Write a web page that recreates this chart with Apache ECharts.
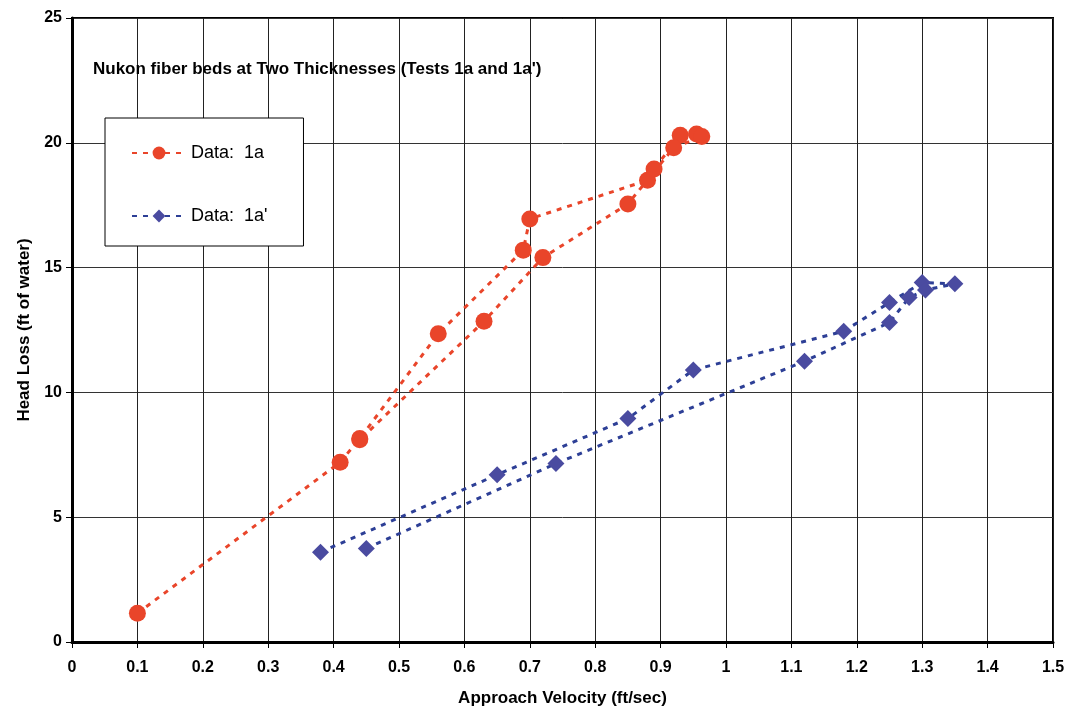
<!DOCTYPE html>
<html>
<head>
<meta charset="utf-8">
<script src="https://cdn.jsdelivr.net/npm/echarts@6/dist/echarts.min.js"></script>
<style>html,body{margin:0;padding:0;background:#fff;}#c{width:1070px;height:709px;}</style>
</head>
<body>
<div id="c"></div>
<script>
const titleText = "Nukon fiber beds at Two Thicknesses (Tests 1a and 1a')";
const xName = "Approach Velocity (ft/sec)";
const yName = "Head Loss (ft of water)";
const seriesNames = ["Data:  1a", "Data:  1a'"];
const xTickLabels = ["0","0.1","0.2","0.3","0.4","0.5","0.6","0.7","0.8","0.9","1","1.1","1.2","1.3","1.4","1.5"];
const yTickLabels = ["0","5","10","15","20","25"];

const redX = [0.10, 0.41, 0.44, 0.56, 0.69, 0.70, 0.88, 0.89, 0.93, 0.955, 0.963, 0.92, 0.85, 0.72, 0.63, 0.44];
const redY = [1.15, 7.2, 8.15, 12.35, 15.7, 16.95, 18.5, 18.95, 20.3, 20.35, 20.25, 19.8, 17.55, 15.4, 12.85, 8.1];
const blueX = [0.38, 0.65, 0.85, 0.95, 1.18, 1.25, 1.30, 1.35, 1.305, 1.28, 1.25, 1.12, 0.74, 0.45];
const blueY = [3.6, 6.7, 8.95, 10.9, 12.45, 13.6, 14.4, 14.35, 14.1, 13.8, 12.8, 11.25, 7.15, 3.75];

const FONT = "'Liberation Sans', Arial, sans-serif";
const RED = '#e9452a';
const BLUE = '#4a4ba0';
const BLUE_LINE = '#2d3f96';

const chart = echarts.init(document.getElementById('c'), null, {renderer: 'canvas'});
chart.setOption({
  backgroundColor: '#ffffff',
  animation: false,
  title: {
    text: titleText,
    left: 88, top: 56,
    textStyle: {fontFamily: FONT, fontSize: 17, fontWeight: 'bold', color: '#000'}
  },
  legend: {
    orient: 'vertical',
    left: 105, top: 118,
    padding: [26, 36, 21, 26],
    itemGap: 45,
    itemWidth: 54, itemHeight: 16,
    backgroundColor: '#fff',
    borderColor: '#000', borderWidth: 1,
    textStyle: {fontFamily: FONT, fontSize: 18, color: '#000'},
    data: seriesNames
  },
  grid: {
    left: 72, right: 17, top: 18, bottom: 67,
    outerBoundsMode: 'none',
    show: true, borderColor: '#000', borderWidth: 2, backgroundColor: 'transparent'
  },
  xAxis: {
    type: 'value', min: 0, max: 1.5, interval: 0.1,
    name: xName, nameLocation: 'middle', nameGap: 48,
    nameTextStyle: {fontFamily: FONT, fontSize: 17, fontWeight: 'bold', color: '#000'},
    axisLine: {show: true, onZero: false, lineStyle: {color: '#000', width: 3}},
    axisTick: {show: true, length: 6, lineStyle: {color: '#000', width: 1}},
    axisLabel: {
      margin: 18, fontFamily: FONT, fontSize: 16, fontWeight: 'bold', color: '#000',
      formatter: v => xTickLabels[Math.round(v * 10)]
    },
    splitLine: {show: true, lineStyle: {color: '#222', width: 1}}
  },
  yAxis: {
    type: 'value', min: 0, max: 25, interval: 5,
    name: yName, nameLocation: 'middle', nameGap: 38,
    nameTextStyle: {fontFamily: FONT, fontSize: 17, fontWeight: 'bold', color: '#000'},
    axisLine: {show: true, onZero: false, lineStyle: {color: '#000', width: 3}},
    axisTick: {show: true, length: 6, lineStyle: {color: '#000', width: 1}},
    axisLabel: {
      margin: 10, fontFamily: FONT, fontSize: 16, fontWeight: 'bold', color: '#000',
      formatter: v => yTickLabels[Math.round(v / 5)]
    },
    splitLine: {show: true, lineStyle: {color: '#333', width: 1}}
  },
  series: [
    {
      name: seriesNames[0], type: 'line',
      data: redX.map((x, i) => [x, redY[i]]),
      symbol: 'circle', symbolSize: 17,
      itemStyle: {color: RED},
      lineStyle: {color: RED, width: 3, type: [5, 6]},
      z: 3
    },
    {
      name: seriesNames[1], type: 'line',
      data: blueX.map((x, i) => [x, blueY[i]]),
      symbol: 'diamond', symbolSize: [17, 17],
      itemStyle: {color: BLUE},
      lineStyle: {color: BLUE_LINE, width: 3, type: [5, 6]},
      z: 3
    }
  ]
});
</script>
</body>
</html>
